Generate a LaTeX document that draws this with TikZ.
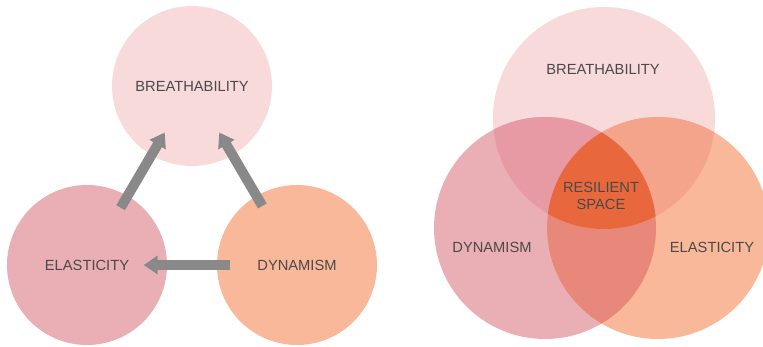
\documentclass[tikz,border=0pt]{standalone}
\usepackage{fontspec}
\setmainfont{Liberation Sans}
\usetikzlibrary{arrows.meta, positioning, calc}

\definecolor{breath}{HTML}{F8DADB}
\definecolor{rosy}{HTML}{E9AFB5}
\definecolor{peach}{HTML}{F8B899}
\definecolor{rosybreath}{HTML}{E79AA3}
\definecolor{peachbreath}{HTML}{F4A48A}
\definecolor{rosypeach}{HTML}{E8887A}
\definecolor{core}{HTML}{E8673D}
\definecolor{arrowgray}{HTML}{898989}
\definecolor{labelgray}{HTML}{4A4A4A}

\begin{document}
\begin{tikzpicture}[x=1pt, y=-1pt, text=labelgray,
    font=\fontsize{14.7}{17}\selectfont,
    blob/.style={circle, inner sep=0pt, minimum size=160pt},
    flow/.style={-{Triangle[width=18pt, length=14pt]}, line width=10pt, arrowgray}]
  \useasboundingbox (0,0) rectangle (763,347);

  % left: the three qualities feeding each other
  \node[blob, fill=breath] (bre) at (192,86) {BREATHABILITY};
  \node[blob, fill=rosy] (ela) at (87,265) {ELASTICITY};
  \node[blob, fill=peach] (dyn) at (297,265) {DYNAMISM};

  \draw[flow] ($(ela)!0.32!(bre)$) -- ($(ela)!0.74!(bre)$);
  \draw[flow] ($(dyn)!0.33!(bre)$) -- ($(dyn)!0.74!(bre)$);
  \draw[flow] ($(dyn)!0.32!(ela)$) -- ($(dyn)!0.73!(ela)$);

  % right: overlapping qualities
  \coordinate (vbre) at (604,118);
  \coordinate (vdyn) at (545,228);
  \coordinate (vela) at (658,228);

  \fill[breath] (vbre) circle[radius=111];
  \fill[rosy] (vdyn) circle[radius=111];
  \fill[peach] (vela) circle[radius=111];

  % pairwise overlaps
  \begin{scope}
    \clip (vbre) circle[radius=111];
    \fill[rosybreath] (vdyn) circle[radius=111];
    \fill[peachbreath] (vela) circle[radius=111];
  \end{scope}
  \begin{scope}
    \clip (vdyn) circle[radius=111];
    \fill[rosypeach] (vela) circle[radius=111];
  \end{scope}

  % triple overlap
  \begin{scope}
    \clip (vbre) circle[radius=111];
    \clip (vdyn) circle[radius=111];
    \fill[core] (vela) circle[radius=111];
  \end{scope}

  \node (lbre) at (603,69) {BREATHABILITY};
  \node[align=center] (lres) at (601,195.5) {RESILIENT\\SPACE};
  \node (ldyn) at (492,247) {DYNAMISM};
  \node (lela) at (712,247) {ELASTICITY};
\end{tikzpicture}
\end{document}
